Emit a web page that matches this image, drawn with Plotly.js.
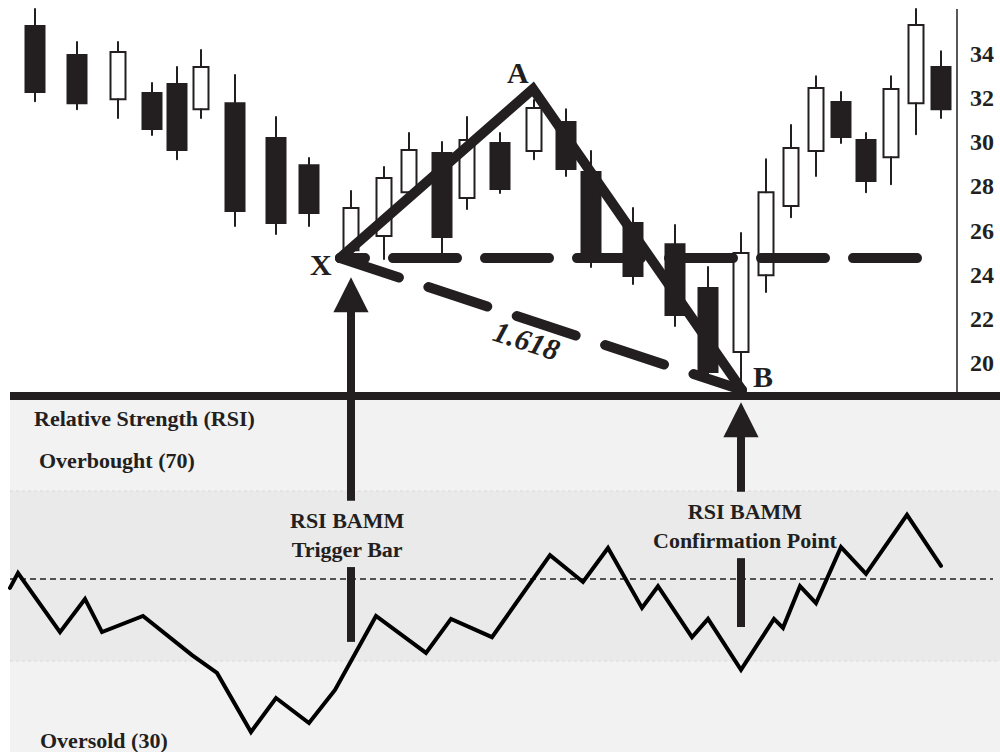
<!DOCTYPE html>
<html>
<head>
<meta charset="utf-8">
<script src="https://cdn.plot.ly/plotly-3.0.1.min.js"></script>
<style>
html,body{margin:0;padding:0;background:#fff;}
#chart{width:1000px;height:752px;}
.scatterlayer .js-line{stroke-linecap:round;}
</style>
</head>
<body>
<div id="chart"></div>
<script>
// ---- price bars (horizontal bar position, OHLC) ----
const barPos = [35,77,118,152,177,201,235,276,309,351,384,409,442,467,500,534,566,591,633,675,708,741,766,791,816,841,866,891,916,941];
const openP  = [35.22,33.91,31.92,32.20,32.60,31.47,31.74,30.16,28.94,25.10,25.74,27.72,29.49,27.45,29.94,29.58,30.89,28.63,26.32,25.37,23.39,20.50,23.97,27.09,29.58,31.79,30.07,29.30,31.74,33.37];
const highP  = [35.99,34.50,34.50,32.65,33.37,34.14,33.01,31.11,29.26,27.77,28.85,30.39,29.98,31.11,30.39,31.88,31.47,29.58,27.00,26.23,24.34,25.87,29.21,30.75,32.96,32.24,30.39,32.96,35.99,34.09];
const lowP   = [31.83,31.47,31.07,30.30,29.21,31.07,26.19,25.83,26.19,24.83,24.70,27.50,24.92,26.96,27.68,29.21,28.45,24.34,23.57,21.67,19.41,18.69,23.21,26.59,28.45,29.94,27.72,28.08,30.34,31.07];
const closeP = [32.24,31.74,34.05,30.57,29.62,33.37,26.87,26.32,26.78,27.00,28.36,29.62,25.69,30.07,27.86,31.52,28.76,24.74,23.93,22.17,19.59,24.97,27.72,29.71,32.42,30.21,28.22,32.38,35.27,31.47];

// ---- pattern points X, A, B ----
const patternLabels = ['X','A','B'];
const patternX = [340,533,742];
const patternY = [24.74,32.38,18.78];
const levelEndX = 918;
const ratioLabel = '1.618';

// ---- RSI ----
const rsiX = [10,18,60,85,102,143,192,217,251,276,309,335,376,426,451,492,550,583,608,642,658,692,708,741,774,783,800,816,841,866,907,941];
const rsiV = [47.2,50.7,36.8,44.6,36.8,40.6,31.4,27.2,13.3,21.3,15.4,23.2,40.6,31.9,39.9,35.6,54.9,48.6,56.6,42.5,47.6,35.6,39.9,27.9,39.9,37.8,47.6,43.6,56.8,50.5,64.4,52.4];
const overbought = 70, oversold = 30, midRSI = 49.3;

const priceTicks = [20,22,24,26,28,30,32,34];

const INK = '#231f20';
const SERIF = 'Liberation Serif';

// bodies
const isDown = openP.map((o,i)=> closeP[i] < o);
const bodyBase = openP.map((o,i)=> Math.min(o, closeP[i]));
const bodyLen  = openP.map((o,i)=> Math.abs(o - closeP[i]));
const bodyW = isDown.map(d => d ? 19 : 15);
const bodyFill = isDown.map(d => d ? INK : '#ffffff');

// wicks (outside the body)
const wx = [], wy = [];
barPos.forEach((x,i)=>{
  const top = Math.max(openP[i], closeP[i]), bot = Math.min(openP[i], closeP[i]);
  wx.push(x,x,null,x,x,null);
  wy.push(highP[i], top, null, bot, lowP[i], null);
});

const traces = [
  {type:'bar', x:barPos, base:bodyBase, y:bodyLen, width:bodyW,
   marker:{color:bodyFill, line:{color:INK, width:2}}, xaxis:'x', yaxis:'y', hoverinfo:'skip'},
  {type:'scatter', mode:'lines', x:wx, y:wy, line:{color:INK, width:2}, connectgaps:false, xaxis:'x', yaxis:'y', hoverinfo:'skip'},
  // horizontal level from X
  {type:'scatter', mode:'lines', x:[patternX[0], levelEndX], y:[patternY[0], patternY[0]],
   line:{color:INK, width:10, dash:'25px,28px,64px,28px,64px,28px,64px,28px,64px,28px,64px,28px,64px,28px,64px,28px'}, xaxis:'x', yaxis:'y', hoverinfo:'skip'},
  // X to B dashed
  {type:'scatter', mode:'lines', x:[patternX[0], patternX[2]], y:[patternY[0], patternY[2]],
   line:{color:INK, width:10, dash:'62px,31px'}, xaxis:'x', yaxis:'y', hoverinfo:'skip'},
  // X-A-B solid
  {type:'scatter', mode:'lines', x:patternX, y:patternY, line:{color:INK, width:10}, xaxis:'x', yaxis:'y', hoverinfo:'skip'},
  // RSI
  {type:'scatter', mode:'lines', x:rsiX, y:rsiV, line:{color:'#000', width:4}, xaxis:'x', yaxis:'y2', hoverinfo:'skip'}
];

const panelTop = 1 - 396/752;
const shapes = [
  {type:'rect', layer:'below', xref:'paper', yref:'paper', x0:0.01, x1:1, y0:0, y1:1-400/752, fillcolor:'#f2f2f2', line:{width:0}},
  {type:'rect', layer:'below', xref:'paper', yref:'y2', x0:0.01, x1:1, y0:oversold, y1:overbought, fillcolor:'#eaeaea', line:{width:0}},
  {type:'line', layer:'below', xref:'paper', yref:'y2', x0:0.01, x1:1, y0:overbought, y1:overbought, line:{color:'#d9d9d9', width:1, dash:'dot'}},
  {type:'line', layer:'below', xref:'paper', yref:'y2', x0:0.01, x1:1, y0:oversold, y1:oversold, line:{color:'#d9d9d9', width:1, dash:'dot'}},
  {type:'line', layer:'below', xref:'paper', yref:'y2', x0:0.01, x1:0.993, y0:midRSI, y1:midRSI, line:{color:INK, width:1.5, dash:'6px,4px'}},
  {type:'line', xref:'paper', yref:'paper', x0:0.01, x1:1, y0:panelTop, y1:panelTop, line:{color:INK, width:8}},
  {type:'line', xref:'paper', yref:'paper', x0:0.957, x1:0.957, y0:panelTop, y1:1-9/752, line:{color:INK, width:1.5}},
  {type:'line', xref:'x', yref:'y2', x0:351, x1:351, y0:52.1, y1:34.5, line:{color:INK, width:8}},
  {type:'line', xref:'x', yref:'y2', x0:741, x1:741, y0:54.2, y1:38.0, line:{color:INK, width:8}}
];

const bold = (size)=>({family:SERIF, size:size, color:INK, weight:'bold'});
const annotations = [
  {xref:'x', yref:'y', x:518, y:33.14, text:patternLabels[1], showarrow:false, font:bold(30)},
  {xref:'x', yref:'y', x:321, y:24.43, text:patternLabels[0], showarrow:false, font:bold(30)},
  {xref:'x', yref:'y', x:763, y:19.37, text:patternLabels[2], showarrow:false, font:bold(30)},
  {xref:'x', yref:'y', x:527, y:21.04, text:'<i>'+ratioLabel+'</i>', textangle:18, showarrow:false, font:bold(30)},
  {xref:'paper', yref:'paper', x:0.032, y:1-418/752, xanchor:'left', yanchor:'middle', text:'Relative Strength (RSI)', showarrow:false, font:bold(22)},
  {xref:'paper', yref:'paper', x:0.037, y:1-461/752, xanchor:'left', yanchor:'middle', text:'Overbought (70)', showarrow:false, font:bold(22)},
  {xref:'paper', yref:'paper', x:0.038, y:1-740/752, xanchor:'left', yanchor:'middle', text:'Oversold (30)', showarrow:false, font:bold(22)},
  {xref:'x', yref:'paper', x:347, y:1-535/752, yanchor:'middle', text:'RSI BAMM<br>Trigger Bar', showarrow:false, font:bold(22)},
  {xref:'x', yref:'paper', x:745, y:1-526/752, yanchor:'middle', text:'RSI BAMM<br>Confirmation Point', showarrow:false, font:bold(22)},
  // arrows
  {xref:'x', yref:'y', x:351, y:23.88, ax:0, ay:225, text:'', showarrow:true, arrowhead:2, arrowsize:0.88, arrowwidth:8, arrowcolor:INK, standoff:0, startstandoff:0},
  {xref:'x', yref:'y2', x:741, y:90.9, ax:0, ay:91, text:'', showarrow:true, arrowhead:2, arrowsize:0.88, arrowwidth:8, arrowcolor:INK, standoff:0, startstandoff:0}
];

const layout = {
  width:1000, height:752,
  margin:{l:0, r:0, t:0, b:0},
  paper_bgcolor:'#ffffff', plot_bgcolor:'rgba(0,0,0,0)',
  showlegend:false, barmode:'overlay', hovermode:false,
  xaxis:{domain:[0,1], range:[0,1000], visible:false, fixedrange:true},
  yaxis:{domain:[panelTop,1], range:[18.51,36.40], anchor:'free', position:0.957, side:'right',
         showgrid:false, zeroline:false, showline:false, ticks:'', tickvals:priceTicks,
         ticklabelstandoff:12, tickfont:bold(24)},
  yaxis2:{domain:[0,panelTop], range:[8.59,92.35], visible:false},
  shapes:shapes,
  annotations:annotations
};

Plotly.newPlot('chart', traces, layout, {staticPlot:true, displayModeBar:false});
</script>
</body>
</html>
